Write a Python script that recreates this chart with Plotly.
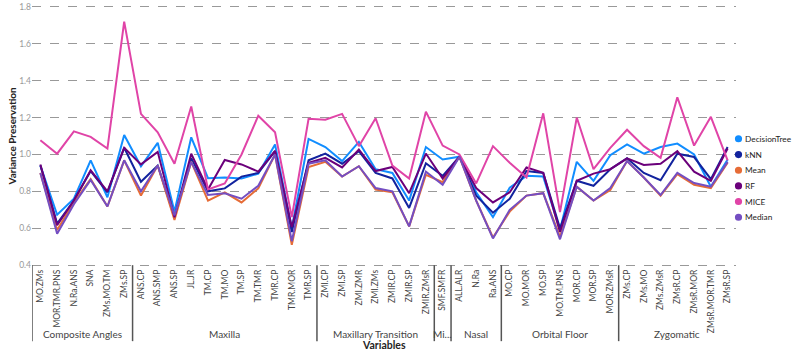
import plotly.graph_objects as go

categories = ["MO.ZMs", "MOR.TMR.PNS", "N.Ra.ANS", "SNA", "ZMs.MO.TM", "ZMs.SP",
              "ANS.CP", "ANS.SMP", "ANS.SP", "JL.JR", "TM.CP", "TM.MO", "TM.SP", "TM.TMR", "TMR.CP", "TMR.MOR", "TMR.SP",
              "ZMI.CP", "ZMI.SP", "ZMI.ZMR", "ZMI.ZMs", "ZMIR.CP", "ZMIR.SP", "ZMIR.ZMsR",
              "SMF.SMFR",
              "ALL.ALR", "N.Ra", "Ra.ANS",
              "MO.CP", "MO.MOR", "MO.SP", "MO.TM.PNS", "MOR.CP", "MOR.SP", "MOR.ZMsR",
              "ZMs.CP", "ZMs.MO", "ZMs.ZMsR", "ZMsR.CP", "ZMsR.MOR", "ZMsR.MOR.TMR", "ZMsR.SP"]

group_names = ["Composite Angles", "Maxilla", "Maxillary Transition", "Mi...", "Nasal", "Orbital Floor", "Zygomatic"]
group_sizes = [6, 11, 7, 1, 3, 7, 7]

decision_tree = [0.94, 0.673, 0.76, 0.968, 0.768, 1.105, 0.936, 1.063, 0.69, 1.093, 0.871, 0.875, 0.87, 0.896,
                 1.054, 0.60, 1.084, 1.04, 0.964, 1.068, 0.92, 0.90, 0.75, 1.04, 0.973, 0.988, 0.795, 0.66,
                 0.82, 0.884, 0.88, 0.59, 0.96, 0.857, 0.996, 1.054, 1.004, 1.04, 1.059, 1.0, 0.825, 0.973]
knn = [0.94, 0.625, 0.75, 0.91, 0.795, 1.036, 0.852, 0.94, 0.66, 0.98, 0.80, 0.816, 0.88, 0.90,
       1.018, 0.58, 0.968, 1.005, 0.95, 1.018, 0.90, 0.87, 0.71, 0.952, 0.884, 0.988, 0.777, 0.684,
       0.76, 0.91, 0.90, 0.60, 0.857, 0.83, 0.92, 0.979, 0.90, 0.86, 1.004, 0.986, 0.866, 1.04]
mean = [0.90, 0.59, 0.74, 0.866, 0.718, 0.968, 0.777, 0.94, 0.645, 0.96, 0.75, 0.795, 0.74, 0.816,
        1.0, 0.51, 0.932, 0.96, 0.88, 0.936, 0.81, 0.795, 0.61, 0.89, 0.85, 0.988, 0.75, 0.55,
        0.69, 0.777, 0.79, 0.553, 0.825, 0.75, 0.807, 0.964, 0.875, 0.777, 0.893, 0.836, 0.818, 0.955]
rf = [0.946, 0.616, 0.75, 0.914, 0.80, 1.036, 0.946, 1.014, 0.66, 1.004, 0.81, 0.97, 0.946, 0.907,
      1.02, 0.607, 0.955, 0.982, 0.93, 1.027, 0.91, 0.932, 0.79, 1.005, 0.87, 0.988, 0.818, 0.74,
      0.795, 0.93, 0.90, 0.58, 0.857, 0.896, 0.92, 0.979, 0.943, 0.95, 1.018, 0.907, 0.857, 1.032]
mice = [1.077, 1.004, 1.125, 1.095, 1.032, 1.72, 1.22, 1.12, 0.95, 1.26, 0.81, 0.843, 1.0, 1.21,
        1.12, 0.66, 1.193, 1.188, 1.22, 1.045, 1.196, 0.94, 0.87, 1.232, 1.048, 1.0, 0.843, 1.045,
        0.955, 0.875, 1.223, 0.6875, 1.2, 0.92, 1.036, 1.134, 1.045, 0.982, 1.31, 1.048, 1.204, 0.968]
median = [0.90, 0.57, 0.73, 0.862, 0.718, 0.968, 0.80, 0.94, 0.67, 0.96, 0.78, 0.79, 0.76, 0.83,
          1.0, 0.53, 0.95, 0.968, 0.88, 0.936, 0.818, 0.80, 0.61, 0.907, 0.836, 0.988, 0.75, 0.545,
          0.70, 0.777, 0.79, 0.54, 0.825, 0.75, 0.818, 0.964, 0.875, 0.78, 0.90, 0.845, 0.825, 0.96]

series_names = ["DecisionTree", "kNN", "Mean", "RF", "MICE", "Median"]
series_values = [decision_tree, knn, mean, rf, mice, median]
series_colors = ["#118DFF", "#12239E", "#E66C37", "#6B007B", "#E044A7", "#744EC2"]

y_ticks = [0.4, 0.6, 0.8, 1.0, 1.2, 1.4, 1.6, 1.8]

FONT = "Segoe UI, Lato, sans-serif"
W, H = 794, 354
ML, MR, MT, MB = 32, 58, 2, 87
PW = W - ML - MR
PH = H - MT - MB
Y0, Y1 = 0.39, 1.81

x_idx = list(range(len(categories)))

fig = go.Figure()
for name, vals, col in zip(series_names, series_values, series_colors):
    fig.add_trace(go.Scatter(x=x_idx, y=vals, mode="lines", name=name,
                             line=dict(color=col, width=2), showlegend=False))

def py_to_paper(py):
    return (H - MB - py) / PH

def px_to_paper(px):
    return (px - ML) / PW

bottom_px = H - MB - (0.4 - Y0) / (Y1 - Y0) * PH  # pixel of y=0.4

shapes = []
annotations = []

start = 0
bounds = [-0.5]
for gname, gsize in zip(group_names, group_sizes):
    end = start + gsize
    center = (start + end - 1) / 2
    annotations.append(dict(x=center, y=py_to_paper(335), xref="x", yref="paper",
                            text=gname, showarrow=False, xanchor="center", yanchor="middle",
                            font=dict(family=FONT, size=10, color="#444")))
    if end < len(categories):
        bounds.append(end - 0.5)
    start = end
for b in bounds:
    shapes.append(dict(type="line", xref="x", yref="paper", x0=b, x1=b,
                       y0=py_to_paper(bottom_px), y1=py_to_paper(342), line=dict(color="#555", width=1.5)))

annotations.append(dict(x=0.5, y=py_to_paper(346), xref="paper", yref="paper",
                        text="<b>Variables</b>", showarrow=False, xanchor="center", yanchor="middle",
                        font=dict(family=FONT, size=10.5, color="#252423")))
annotations.append(dict(x=px_to_paper(12), y=py_to_paper(135), xref="paper", yref="paper",
                        text="<b>Variance Preservation</b>", showarrow=False, textangle=-90,
                        xanchor="center", yanchor="middle",
                        font=dict(family=FONT, size=10, color="#252423")))

leg_y = [137.3, 153.3, 169.2, 185.0, 200.8, 216.7]
for name, col, ly in zip(series_names, series_colors, leg_y):
    cx = 738.5
    r = 3.6
    shapes.append(dict(type="circle", xref="paper", yref="paper",
                       x0=px_to_paper(cx - r), x1=px_to_paper(cx + r),
                       y0=py_to_paper(ly + r), y1=py_to_paper(ly - r),
                       fillcolor=col, line=dict(width=0)))
    annotations.append(dict(x=px_to_paper(743), y=py_to_paper(ly), xref="paper", yref="paper",
                            text=name, showarrow=False, xanchor="left", yanchor="middle",
                            font=dict(family=FONT, size=8.3, color="#252423")))

fig.update_layout(
    width=W, height=H,
    margin=dict(l=ML, r=MR, t=MT, b=MB),
    plot_bgcolor="white", paper_bgcolor="white",
    font=dict(family=FONT),
    shapes=shapes, annotations=annotations,
    xaxis=dict(range=[-0.5, len(categories) - 0.5], tickmode="array", tickvals=x_idx,
               ticktext=categories, tickangle=-90, showgrid=False, zeroline=False,
               showline=False, ticks="", tickfont=dict(family=FONT, size=8.5, color="#444")),
    yaxis=dict(range=[Y0, Y1], tickmode="array", tickvals=y_ticks,
               ticktext=[f"{v:.1f}" for v in y_ticks], showgrid=True, gridcolor="#999",
               griddash="dash", gridwidth=1, zeroline=False, showline=False, ticks="",
               ticklabeloverflow="allow",
               tickfont=dict(family=FONT, size=8.5, color="#999")),
)

fig.write_html("out.html")
